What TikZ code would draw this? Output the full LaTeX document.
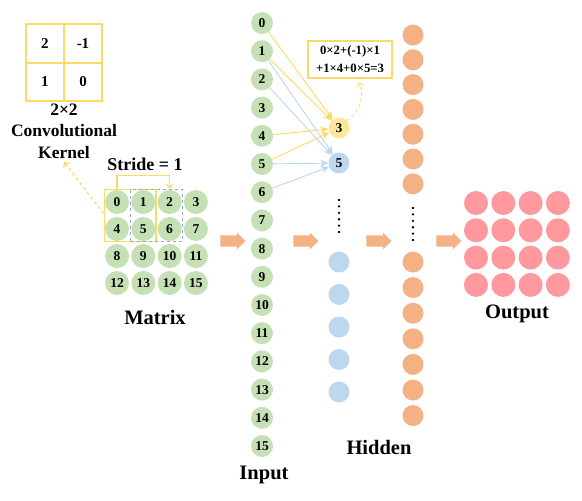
\documentclass[tikz,border=0pt]{standalone}
\usepackage{fontspec}
\setmainfont{Liberation Serif}
\usetikzlibrary{arrows.meta}
\usetikzlibrary{shapes.arrows}
\usetikzlibrary{positioning}
\usetikzlibrary{fit}
\usetikzlibrary{calc}
\definecolor{nodeGreen}{RGB}{197,224,180}
\definecolor{nodeYellow}{RGB}{255,230,153}
\definecolor{nodeBlue}{RGB}{189,215,238}
\definecolor{nodeOrange}{RGB}{244,177,131}
\definecolor{nodePink}{RGB}{255,153,158}
\definecolor{lineYellow}{RGB}{255,217,102}
\definecolor{lineBlue}{RGB}{143,170,220}
\tikzstyle{unit} = [circle,inner sep=0pt,font=\fontsize{13.5}{14}\selectfont\bfseries]
\tikzstyle{matnode} = [unit,fill=nodeGreen,minimum size=24pt]
\tikzstyle{innode} = [unit,fill=nodeGreen,minimum size=22pt]
\tikzstyle{hidnode} = [unit,fill=nodeBlue,minimum size=21pt]
\tikzstyle{actnode} = [unit,fill=nodeOrange,minimum size=21pt]
\tikzstyle{outnode} = [unit,fill=nodePink,minimum size=24pt]
\tikzstyle{bigarrow} = [single arrow,fill=nodeOrange,inner xsep=0pt,inner ysep=5.5pt,
  minimum height=25pt,single arrow head extend=2.7pt,single arrow head indent=0pt]
\tikzstyle{link} = [line width=0.9pt,-{Stealth[length=8pt,width=7pt]}]
\tikzstyle{title} = [font=\fontsize{20.5}{22}\selectfont\bfseries]
\tikzstyle{cell} = [font=\fontsize{15}{16}\selectfont\bfseries]

\begin{document}
\begin{tikzpicture}[x=1pt,y=-1pt]
    \useasboundingbox (0,0) rectangle (582,501);

    % convolution kernel
    \draw[lineYellow,line width=1.6pt] (26,24) rectangle (102,101);
    \draw[lineYellow,line width=1.2pt] (64,24) -- (64,101) (26,63) -- (102,63);
    \node[cell] (k00) at (45,44) {2};
    \node[cell] (k01) at (83,44) {-1};
    \node[cell] (k10) at (45,82) {1};
    \node[cell] (k11) at (83,82) {0};
    \node[align=center,font=\fontsize{17.5}{21.5}\selectfont\bfseries] (kernel) at (64,131)
        {2×2\\Convolutional\\Kernel};

    % 4x4 matrix
    \foreach \r in {0,...,3}{%
      \foreach \c in {0,...,3}{%
        \pgfmathsetmacro{\n}{int(4*\r+\c)}
        \node[matnode] (m\n) at (117+26.3*\c,202+27*\r) {\n};
      }
    }
    \node[fit=(m0)(m5),draw=lineYellow,line width=1.2pt,inner sep=0.5pt] (ywin) {};
    \node[fit=(m1)(m6),draw=lineBlue,dashed,line width=1.2pt,inner sep=0.5pt] (bwin) {};
    \draw[lineYellow,line width=1.2pt,-{Straight Barb[length=4pt,width=7pt]}]
        (m0 |- ywin.north) -- ++(0,-13) -| (m2 |- bwin.north);
    \node[font=\fontsize{18}{20}\selectfont\bfseries] (stride) at (145,164) {Stride = 1};
    \coordinate (ywest) at ($(ywin.west)+(0,-2)$);
    \draw[lineYellow,dashed,line width=1.2pt,-{Straight Barb[length=4pt,width=8pt]}]
        (ywest) -- (kernel.south);
    \node[title] (matrix) at (155,317) {Matrix};

    % input layer
    \foreach \i in {0,...,15}{%
      \node[innode] (in\i) at (262,23+28.2*\i) {\i};
    }
    \node[title] (input) at (264,475) {Input};

    % hidden layer
    \node[unit,fill=nodeYellow,minimum size=21pt] (h3) at (339,128) {3};
    \node[hidnode] (h5) at (339,163) {5};
    \foreach \i in {0,...,4}{%
      \node[hidnode] (hb\i) at (339,262+32.5*\i) {};
    }
    \foreach \i in {0,...,6}{%
      \node[actnode] (aa\i) at (413,35+24.8*\i) {};
      \node[actnode] (ab\i) at (413,262+25.6*\i) {};
    }
    \foreach \y in {0,...,5}{% dotted gaps
      \fill (339,200+6.4*\y) circle (1.3pt);
      \fill (413,208+6.4*\y) circle (1.3pt);
    }
    \node[title] (hidden) at (379,447) {Hidden};

    \foreach \i in {0,1,4,5}{%
      \draw[link,lineYellow] (in\i) -- (h3);
    }
    \foreach \i in {1,2,5,6}{%
      \draw[link,nodeBlue] (in\i) -- (h5);
    }

    % weighted sum
    \node[draw=lineYellow,line width=1.2pt,minimum width=84pt,minimum height=37pt,align=center,
        inner sep=1pt,font=\fontsize{12.7}{18}\selectfont\bfseries] (sum) at (350,59.5)
        {0×2+(-1)×1\\+1×4+0×5=3};
    \coordinate (sumfoot) at ($(sum.south)+(9,4)$);
    \draw[lineYellow,dashed,line width=0.9pt,-{Straight Barb[length=3pt,width=6pt]}]
        (h3.north east) to[bend right=40] (sumfoot);

    % output
    \foreach \r in {0,...,3}{%
      \foreach \c in {0,...,3}{%
        \node[outnode] (o\r\c) at (476+27.3*\c,203+27.3*\r) {};
      }
    }
    \node[title] (output) at (517,314) {Output};

    % flow arrows
    \node[bigarrow] (flow1) at (230,241) {};
    \node[bigarrow] (flow2) at (303,241) {};
    \node[bigarrow] (flow3) at (376,241) {};
    \node[bigarrow] (flow4) at (446,241) {};

\end{tikzpicture}
\end{document}
